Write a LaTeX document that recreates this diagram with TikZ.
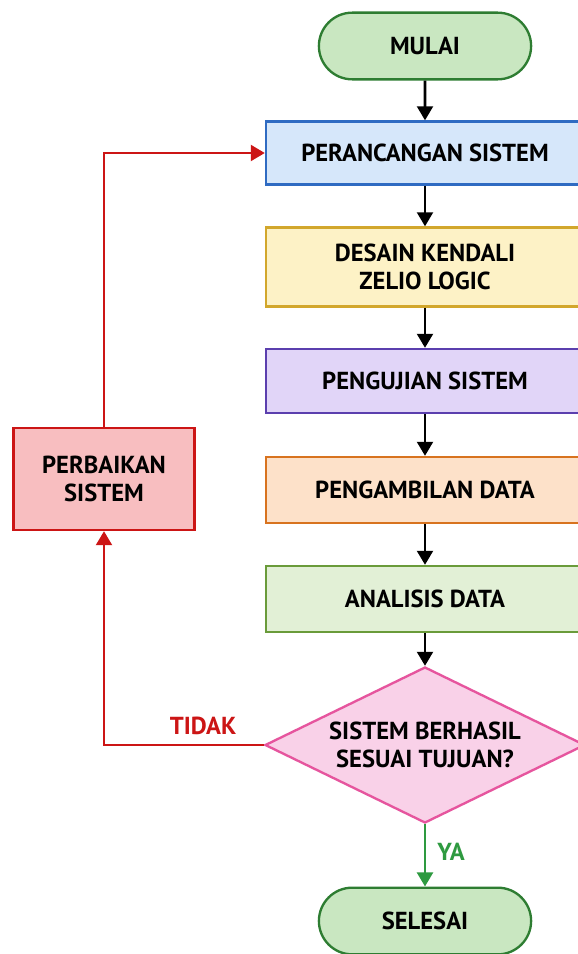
\documentclass[tikz,border=0pt]{standalone}
\usepackage{fontspec}
\setmainfont{PT Sans}
\usetikzlibrary{shapes.geometric, shapes.misc, arrows.meta}

\definecolor{hijauisi}{HTML}{C9E7C1}
\definecolor{hijaugaris}{HTML}{2E7D32}
\definecolor{biruisi}{HTML}{D6E7FA}
\definecolor{birugaris}{HTML}{2F6BC2}
\definecolor{kuningisi}{HTML}{FDF2C6}
\definecolor{kuninggaris}{HTML}{D2A72C}
\definecolor{unguisi}{HTML}{E1D5F8}
\definecolor{ungugaris}{HTML}{5B3FAE}
\definecolor{oranyeisi}{HTML}{FDE1C9}
\definecolor{oranyegaris}{HTML}{D8731F}
\definecolor{daunisi}{HTML}{E2F0D6}
\definecolor{daungaris}{HTML}{6A9B3A}
\definecolor{merahmudaisi}{HTML}{F9D1E8}
\definecolor{merahmudagaris}{HTML}{E6559E}
\definecolor{perbaikanisi}{HTML}{F8BEC0}
\definecolor{merahgaris}{HTML}{CC1515}
\definecolor{hijaupanah}{HTML}{2E9A40}

\tikzset{
  huruf/.style={font=\fontsize{21}{24}\selectfont\bfseries, text=black, align=center},
  terminal/.style={rounded rectangle, huruf, draw=hijaugaris, fill=hijauisi, line width=2pt,
    minimum width=6.6cm, minimum height=2.0cm},
  proses/.style 2 args={rectangle, huruf, draw=#1, fill=#2, line width=2pt,
    minimum width=9.54cm},
  keputusan/.style={diamond, huruf, draw=merahmudagaris, fill=merahmudaisi, line width=2pt,
    aspect=2.05, inner sep=-6pt, minimum width=9.6cm, minimum height=4.68cm},
  panah/.style={line width=2.4pt, -{Triangle[length=12pt,width=13.5pt]}},
}

\begin{document}
\begin{tikzpicture}[x=0.03cm, y=-0.03cm]
  \useasboundingbox (0,0) rectangle (577,954);
  \fill[white] (0,0) rectangle (577,954);

  % alur utama
  \node[terminal] (mulai) at (425,46) {MULAI};
  \node[proses={birugaris}{biruisi}, minimum height=1.89cm] (perancangan) at (425,153) {PERANCANGAN SISTEM};
  \node[proses={kuninggaris}{kuningisi}, minimum height=2.37cm] (desain) at (425,267) {DESAIN KENDALI\\ZELIO LOGIC};
  \node[proses={ungugaris}{unguisi}, minimum height=1.92cm] (pengujian) at (425,381) {PENGUJIAN SISTEM};
  \node[proses={oranyegaris}{oranyeisi}, minimum height=1.98cm] (pengambilan) at (425,490) {PENGAMBILAN DATA};
  \node[proses={daungaris}{daunisi}, minimum height=1.98cm] (analisis) at (425,599) {ANALISIS DATA};
  \node[keputusan] (cek) at (425,745) {SISTEM BERHASIL\\SESUAI TUJUAN?};
  \node[terminal] (selesai) at (425,921) {SELESAI};

  % perbaikan
  \node[proses={merahgaris}{perbaikanisi}, minimum width=5.43cm, minimum height=3.06cm] (perbaikan) at (104,479) {PERBAIKAN\\SISTEM};

  \draw[panah] (mulai) -- (perancangan);
  \draw[panah] (perancangan) -- (desain);
  \draw[panah] (desain) -- (pengujian);
  \draw[panah] (pengujian) -- (pengambilan);
  \draw[panah] (pengambilan) -- (analisis);
  \draw[panah] (analisis) -- (cek);
  \draw[panah, hijaupanah] (cek.south) -- node[right=6pt, pos=0.45, huruf, text=hijaupanah] {YA} (selesai.north);

  % umpan balik
  \draw[panah, merahgaris] (cek.west) -| node[pos=0.19, above=4pt, huruf, text=merahgaris] {TIDAK} (perbaikan.south);
  \draw[panah, merahgaris] (perbaikan.north) |- (perancangan.west);
\end{tikzpicture}
\end{document}
